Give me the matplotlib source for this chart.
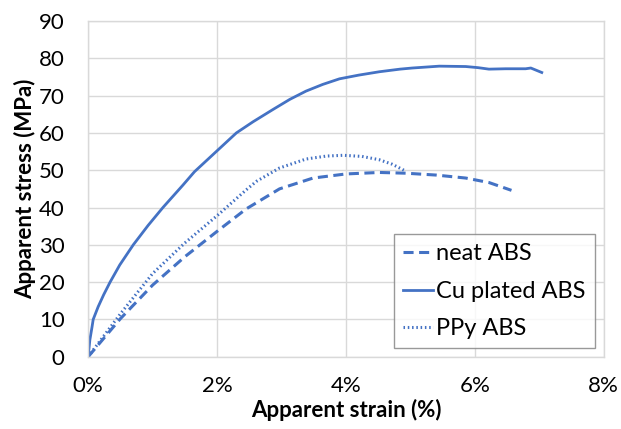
import numpy as np
import matplotlib
matplotlib.use("Agg")
import matplotlib.pyplot as plt
from matplotlib.ticker import FuncFormatter

plt.rcParams['font.family'] = ['Lato', 'DejaVu Sans']

# data (strain in %, stress in MPa)
cu_strain = [0.0, 0.026, 0.06, 0.078, 0.155, 0.24, 0.34, 0.49, 0.70, 0.93, 1.16,
             1.47, 1.65, 2.0, 2.3, 2.56, 2.87, 3.13, 3.38, 3.64, 3.90, 4.2,
             4.52, 4.84, 5.03, 5.45, 5.86, 6.05, 6.22, 6.48, 6.79, 6.87, 7.04]
cu_stress = [0.0, 4.5, 8.0, 10.0, 13.4, 16.6, 20.0, 24.6, 30.0, 35.2, 40.0,
             46.0, 49.6, 55.2, 60.0, 63.0, 66.3, 69.0, 71.2, 73.0, 74.5, 75.5,
             76.4, 77.1, 77.4, 77.9, 77.8, 77.5, 77.1, 77.2, 77.2, 77.4, 76.2]

neat_strain = [0.0, 0.5, 1.0, 1.5, 2.0, 2.45, 2.97, 3.49, 4.0, 4.52, 4.93,
               5.40, 5.86, 6.22, 6.57]
neat_stress = [0.0, 10.2, 19.2, 26.8, 33.6, 39.6, 45.0, 47.9, 49.0, 49.4, 49.2,
               48.7, 47.9, 46.7, 44.6]

ppy_strain = [0.0, 0.5, 1.0, 1.5, 2.0, 2.45, 2.61, 2.97, 3.38, 3.7, 3.96,
              4.25, 4.52, 4.72, 4.90]
ppy_stress = [0.0, 11.5, 22.3, 30.5, 37.8, 44.7, 47.0, 50.6, 53.0, 53.8, 54.0,
              53.7, 52.8, 51.6, 50.0]

blue = '#4472C4'
grid_col = '#D9D9D9'

fig = plt.figure(figsize=(6.21, 4.29), dpi=100)
ax = fig.add_axes([0.142, 0.1685, 0.830, 0.7825])

ax.plot(neat_strain, neat_stress, color=blue, lw=2.2, ls=(0, (3.3, 1.8)), label='neat ABS')
ax.plot(cu_strain, cu_stress, color=blue, lw=2.0, ls='-', label='Cu plated ABS')
ax.plot(ppy_strain, ppy_stress, color=blue, lw=2.2, ls=(0, (0.5, 0.9)), label='PPy ABS')

ax.set_xlim(0, 8)
ax.set_ylim(0, 90)
ax.set_xticks([0, 2, 4, 6, 8])
ax.set_yticks(range(0, 91, 10))
ax.xaxis.set_major_formatter(FuncFormatter(lambda v, p: '%d%%' % v))
ax.grid(True, color=grid_col, lw=1.0)
ax.set_axisbelow(True)
for s in ax.spines.values():
    s.set_color(grid_col)
    s.set_linewidth(1.0)
ax.tick_params(length=0, labelsize=16, colors='#000000')
ax.tick_params(axis='y', pad=17)
ax.tick_params(axis='x', pad=14)

ax.set_xlabel('Apparent strain (%)', fontsize=16, fontweight='bold', labelpad=2)
ax.set_ylabel('Apparent stress (MPa)', fontsize=16, fontweight='bold', labelpad=2)

leg = ax.legend(loc='lower right', bbox_to_anchor=(0.983, 0.025), fontsize=17,
                frameon=True, fancybox=False, handlelength=1.25, handletextpad=0.15,
                borderpad=0.38, labelspacing=0.7, borderaxespad=0)
leg.get_frame().set_edgecolor('#808080')
leg.get_frame().set_linewidth(1.0)

fig.savefig('out.png', dpi=100)
